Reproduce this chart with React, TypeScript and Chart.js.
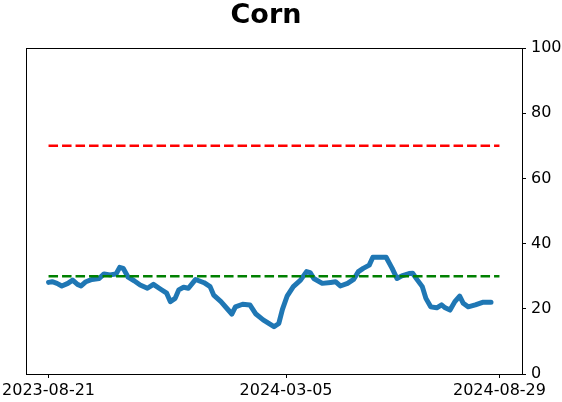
import React, { useEffect, useRef } from "react";
import { Chart, registerables } from "chart.js";

Chart.register(...registerables);

const TITLE = "Corn";
// days since 2023-08-21
const dayOffsets = [0, 3, 7, 11, 16, 20, 24, 27, 31, 36, 42, 46, 51, 56, 59, 62, 66, 71, 76, 82, 87, 93, 98, 101, 105, 108, 112, 116, 122, 129, 134, 137, 143, 148, 152, 155, 161, 167, 172, 178, 187, 191, 194, 198, 203, 209, 214, 217, 220, 227, 234, 238, 242, 248, 253, 257, 261, 266, 269, 275, 280, 285, 289, 293, 299, 302, 306, 310, 313, 317, 322, 326, 329, 333, 337, 341, 344, 348, 354, 360, 364, 367];
const values = [28.1, 28.3, 27.8, 27.0, 27.8, 28.8, 27.5, 27.0, 28.3, 29.0, 29.3, 30.7, 30.4, 30.7, 32.7, 32.4, 29.7, 28.6, 27.3, 26.3, 27.5, 26.0, 24.8, 22.2, 23.2, 25.8, 26.6, 26.3, 29.0, 28.0, 26.8, 24.2, 22.2, 20.1, 18.4, 20.6, 21.4, 21.2, 18.4, 16.6, 14.5, 15.5, 19.8, 24.0, 26.8, 28.8, 31.4, 31.1, 29.3, 27.8, 28.1, 28.3, 27.0, 27.8, 29.0, 31.4, 32.4, 33.4, 35.8, 35.8, 35.8, 32.4, 29.3, 30.1, 30.8, 30.9, 28.8, 26.8, 23.2, 20.6, 20.3, 21.2, 20.3, 19.6, 22.2, 23.9, 21.7, 20.6, 21.2, 22.0, 22.0, 22.0];
const tickDays = [0, 197, 374];
const tickLabels = ["2023-08-21", "2024-03-05", "2024-08-29"];
const upperLevel = 70;
const lowerLevel = 30;
const xStart = 0;
const xEnd = 374;

export default function App() {
  const ref = useRef<HTMLCanvasElement>(null);
  useEffect(() => {
    document.body.style.margin = "0";
    const ctx = ref.current!.getContext("2d")!;
    const font = "'DejaVu Sans', sans-serif";
    const span = xEnd - xStart;
    const framePlugin = {
      id: "frame",
      afterDraw(chart: any) {
        const { ctx, chartArea } = chart;
        ctx.save();
        ctx.strokeStyle = "#000";
        ctx.lineWidth = 1;
        ctx.strokeRect(Math.round(chartArea.left) + 0.5, Math.round(chartArea.top) + 0.5, Math.round(chartArea.right - chartArea.left), Math.round(chartArea.bottom - chartArea.top));
        ctx.fillStyle = "#000";
        ctx.font = "bold 27px " + font;
        ctx.textAlign = "center";
        ctx.textBaseline = "alphabetic";
        ctx.fillText(TITLE, 266, 23);
        ctx.restore();
      },
    };
    const chart = new Chart(ctx, {
      type: "line",
      data: {
        datasets: [
          {
            data: [{ x: xStart, y: upperLevel }, { x: xEnd, y: upperLevel }],
            borderColor: "#ff0000",
            borderWidth: 2.5,
            borderDash: [9.5, 4],
            pointRadius: 0,
            order: 1,
          },
          {
            data: [{ x: xStart, y: lowerLevel }, { x: xEnd, y: lowerLevel }],
            borderColor: "#008000",
            borderWidth: 2.5,
            borderDash: [9.5, 4],
            pointRadius: 0,
            order: 1,
          },
          {
            data: dayOffsets.map((d, i) => ({ x: d, y: values[i] })),
            borderColor: "#1f77b4",
            borderWidth: 5,
            pointRadius: 0,
            borderJoinStyle: "round",
            borderCapStyle: "round",
            order: 2,
          },
        ],
      },
      options: {
        responsive: false,
        animation: false,
        layout: { padding: { top: 48, left: 26, right: 0, bottom: 0 } },
        plugins: { legend: { display: false }, tooltip: { enabled: false }, title: { display: false } },
        scales: {
          x: {
            type: "linear",
            min: xStart - span * 0.05,
            max: xEnd + span * 0.05,
            afterBuildTicks: (scale: any) => {
              scale.ticks = tickDays.map((v) => ({ value: v }));
            },
            afterFit: (scale: any) => {
              scale.height = 28;
              scale.paddingLeft = 0;
              scale.paddingRight = 0;
            },
            ticks: {
              autoSkip: false,
              maxRotation: 0,
              color: "#000",
              padding: 3,
              font: { family: font, size: 16 },
              callback: (v: any) => {
                const i = tickDays.indexOf(Number(v));
                return i >= 0 ? tickLabels[i] : "";
              },
            },
            grid: { display: true, drawOnChartArea: false, drawTicks: true, tickLength: 4, color: "#000" },
            border: { display: true, color: "#000" },
          },
          y: {
            position: "right",
            min: 0,
            max: 100,
            afterFit: (scale: any) => {
              scale.width = 40;
              scale.paddingTop = 0;
              scale.paddingBottom = 0;
            },
            ticks: {
              stepSize: 20,
              color: "#000",
              padding: 5,
              font: { family: font, size: 16 },
            },
            grid: { display: true, drawOnChartArea: false, drawTicks: true, tickLength: 4, color: "#000" },
            border: { display: true, color: "#000" },
          },
        },
      },
      plugins: [framePlugin],
    });
    return () => chart.destroy();
  }, []);
  return (
    <div style={{ width: 562, height: 402, background: "#fff" }}>
      <canvas ref={ref} width={562} height={402} style={{ display: "block" }} />
    </div>
  );
}
